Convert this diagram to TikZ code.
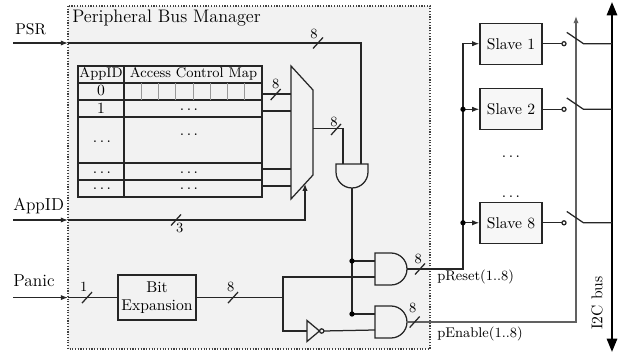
\documentclass[tikz,border=0pt]{standalone}
\usepackage{fontspec}
\usetikzlibrary{arrows.meta}
\begin{document}
\begin{tikzpicture}[x=0.64pt,y=-0.64pt,
  wire/.style={draw=black!85,line width=0.8pt},
  ctrl/.style={draw=black!62,line width=0.8pt},
  arr/.style={-{Latex[length=4.6pt,width=3.4pt]}},
  thin/.style={draw=black!40,line width=0.45pt},
  fn/.style={font=\fontsize{10}{12}\selectfont},
  fb/.style={font=\fontsize{11.1}{13}\selectfont},
  fs/.style={font=\fontsize{9}{11}\selectfont},
  ft/.style={font=\fontsize{11.6}{14}\selectfont},
  txt/.style={inner sep=0pt},
  blk/.style={draw=black!85,line width=0.8pt,inner sep=0pt},
  slavebox/.style={blk,fill=black!3,minimum width=39.7pt,minimum height=26.2pt,fn},
]
\useasboundingbox (0,0) rectangle (624,354);

% manager box
\fill[black!5] (68,6) rectangle (430,349);
\draw[black!75,densely dotted,line width=0.75pt] (68,6) rectangle (430,349);
\node[txt,ft,anchor=base west] (title) at (72,22.7) {Peripheral Bus Manager};

% left labels
\node[txt,fn,anchor=base west] (lpsr) at (15,34.3) {PSR};
\node[txt,fb,anchor=base west] (lapp) at (13,211) {AppID};
\node[txt,fb,anchor=base west] (lpan) at (13,286.7) {Panic};

% table
\draw[wire] (78,66) rectangle (262,197);
\foreach \yy in {83,100,117,163,180} \draw[wire] (78,\yy) -- (262,\yy);
\draw[wire] (124,66) -- (124,197);
\foreach \k in {1,...,7} \draw[thin] ({124+17.25*\k},83) -- ({124+17.25*\k},100);
\node[txt,fs,anchor=base] (hA) at (101,77.7) {AppID};
\node[txt,fs,anchor=base] (hM) at (193.5,77.7) {Access Control Map};
\node[txt,fn,anchor=base] (r0) at (101,95.7) {0};
\node[txt,fn,anchor=base] (r1) at (101,113.3) {1};
\node[txt,fn] (d1r) at (189,110) {$\ldots$};
\node[txt,fn] (d2l) at (102,141.7) {$\ldots$};
\node[txt,fn] (d2r) at (189,134.5) {$\ldots$};
\node[txt,fn] (d3l) at (102,172.3) {$\ldots$};
\node[txt,fn] (d3r) at (189,172.3) {$\ldots$};
\node[txt,fn] (d4l) at (102,189) {$\ldots$};
\node[txt,fn] (d4r) at (189,189) {$\ldots$};

% mux
\draw[wire] (291,66) -- (313,90) -- (313,175) -- (291,199) -- cycle;
\coordinate (ti1) at (262,94);  \coordinate (mi1) at (291,94);
\coordinate (ti2) at (262,111); \coordinate (mi2) at (291,111);
\coordinate (ti3) at (262,169); \coordinate (mi3) at (291,169);
\coordinate (ti4) at (262,186); \coordinate (mi4) at (291,186);
\coordinate (mo) at (313,128.5);
\coordinate (sel) at (305,183.7);
\draw[wire] (ti1) -- (mi1);
\draw[wire] (ti2) -- (mi2);
\draw[wire] (ti3) -- (mi3);
\draw[wire] (ti4) -- (mi4);

% AND1 (pointing down)
\draw[wire] (336,164) -- (368,164) -- (368,172) arc[start angle=0,end angle=-180,radius=10.24pt] -- cycle;
\coordinate (a1l) at (343,164);
\coordinate (a1r) at (361,164);
\coordinate (a1o) at (352,188);

% AND2, AND3
\draw[wire] (375,253) -- (391,253) arc[start angle=90,end angle=-90,radius=10.24pt] -- (375,285) -- cycle;
\draw[wire] (375,306) -- (391,306) arc[start angle=90,end angle=-90,radius=10.24pt] -- (375,338) -- cycle;
\coordinate (a2t) at (375,261); \coordinate (a2b) at (375,277); \coordinate (a2o) at (407,269);
\coordinate (a3t) at (375,314); \coordinate (a3b) at (375,330); \coordinate (a3o) at (407,322);

% NOT
\draw[wire] (307,320.5) -- (319.5,331) -- (307,341.5) -- cycle;
\draw[wire] (321.7,331) circle[radius=1.4pt];
\coordinate (nin) at (307,331);
\coordinate (nout) at (323.9,331);

% bit expansion
\node[blk,fill=black!5,fn,align=center,minimum width=49.9pt,minimum height=28.8pt] (bx) at (157,297.6) {Bit\\[-1pt]Expansion};

% slaves
\node[slavebox] (s1) at (511,43.7) {Slave 1};
\node[slavebox] (s2) at (511,109.3) {Slave 2};
\node[slavebox] (s8) at (511,222.8) {Slave 8};
\node[txt,fn] (sd1) at (511,156.7) {$\ldots$};
\node[txt,fn] (sd2) at (511,196.7) {$\ldots$};

% PSR wire
\coordinate (psr0) at (13,43);
\coordinate (psrE) at (68,43);
\coordinate (psrC) at (361,43);
\draw[wire,arr] (psr0) -- (psrE);
\draw[wire] (psrE) -- (psrC) -- (a1r);

% mux output
\coordinate (moC) at (343,128.5);
\draw[wire] (mo) -- (moC) -- (a1l);

% AppID wire
\coordinate (app0) at (13,220);
\coordinate (appE) at (68,220);
\coordinate (appC) at (305,220);
\draw[wire,arr] (app0) -- (appE);
\draw[wire,arr] (appE) -- (appC) -- (sel);

% Panic wire
\coordinate (pan0) at (13,297.6);
\coordinate (panE) at (68,297.6);
\draw[wire,arr] (pan0) -- (panE);
\draw[wire] (panE) -- (bx.west);
\coordinate (jm) at (283,297.6);
\coordinate (jt) at (283,277);
\coordinate (jb) at (283,331);
\draw[wire] (bx.east) -- (jm);
\draw[wire] (a2b) -- (jt) -- (jb) -- (nin);
\draw[wire] (nout) -- (a3b);

% AND1 output distribution
\coordinate (dj1) at (352,261);
\coordinate (dj2) at (352,314);
\draw[wire] (a1o) -- (dj2);
\draw[wire] (dj1) -- (a2t);
\draw[wire] (dj2) -- (a3t);
\fill[black] (dj1) circle[radius=1.7pt];
\fill[black] (dj2) circle[radius=1.7pt];

% pReset
\coordinate (prA) at (463,269);
\coordinate (prT) at (463,43.7);
\coordinate (pr2) at (463,109.3);
\coordinate (pr8) at (463,222.8);
\draw[wire,arr] (a2o) -- (prA) -- (prT) -- (s1.west);
\draw[wire,arr] (pr2) -- (s2.west);
\draw[wire,arr] (pr8) -- (s8.west);
\fill[black] (pr2) circle[radius=1.7pt];
\fill[black] (pr8) circle[radius=1.7pt];
\node[txt,fs,anchor=base west] (lres) at (437,280.2) {pReset(1..8)};

% pEnable
\coordinate (peA) at (576,322);
\coordinate (peT) at (576,16);
\draw[ctrl,-{Latex[length=4.6pt,width=3.4pt]}] (a3o) -- (peA) -- (peT);
\node[txt,fs,anchor=base west] (lena) at (437,337.5) {pEnable(1..8)};

% bus
\coordinate (busT) at (612,2);
\coordinate (busB) at (612,352);
\draw[black,line width=1.5pt,{Triangle[length=8.5pt,width=6.5pt]}-{Triangle[length=8.5pt,width=6.5pt]}] (busB) -- (busT);
\node[txt,fn,rotate=90] (lbus) at (597,303) {I2C bus};

% switches
\foreach \nm/\yy in {s1/43.7,s2/109.3,s8/222.8}{
  \coordinate (c\nm) at (562.7,\yy);
  \coordinate (w\nm) at (566.8,\yy-11.3);
  \coordinate (e\nm) at (583.5,\yy);
  \coordinate (b\nm) at (612,\yy);
  \draw[wire] (\nm.east) -- (c\nm);
  \draw[wire] (w\nm) -- (e\nm) -- (b\nm);
  \draw[wire,fill=white] (564,\yy) circle[radius=1.3pt];
}

% bus width slashes
\foreach \cx/\cy in {318/43,275.7/94.5,336/129.5,176/220,87/297.6,233/297.6,420/269,414.7/322}
  \draw[wire] (\cx,\cy) ++(-5,5.5) -- ++(10,-11);
\node[txt,fs] (w1) at (314,33.8) {8};
\node[txt,fs] (w2) at (275.7,84.3) {8};
\node[txt,fs] (w3) at (334,121.7) {8};
\node[txt,fs] (w4) at (179.7,228.3) {3};
\node[txt,fs] (w5) at (83.7,287.3) {1};
\node[txt,fs] (w6) at (230.7,287.3) {8};
\node[txt,fs] (w7) at (418.3,259) {8};
\node[txt,fs] (w8) at (412.7,307.7) {8};
\end{tikzpicture}
\end{document}
